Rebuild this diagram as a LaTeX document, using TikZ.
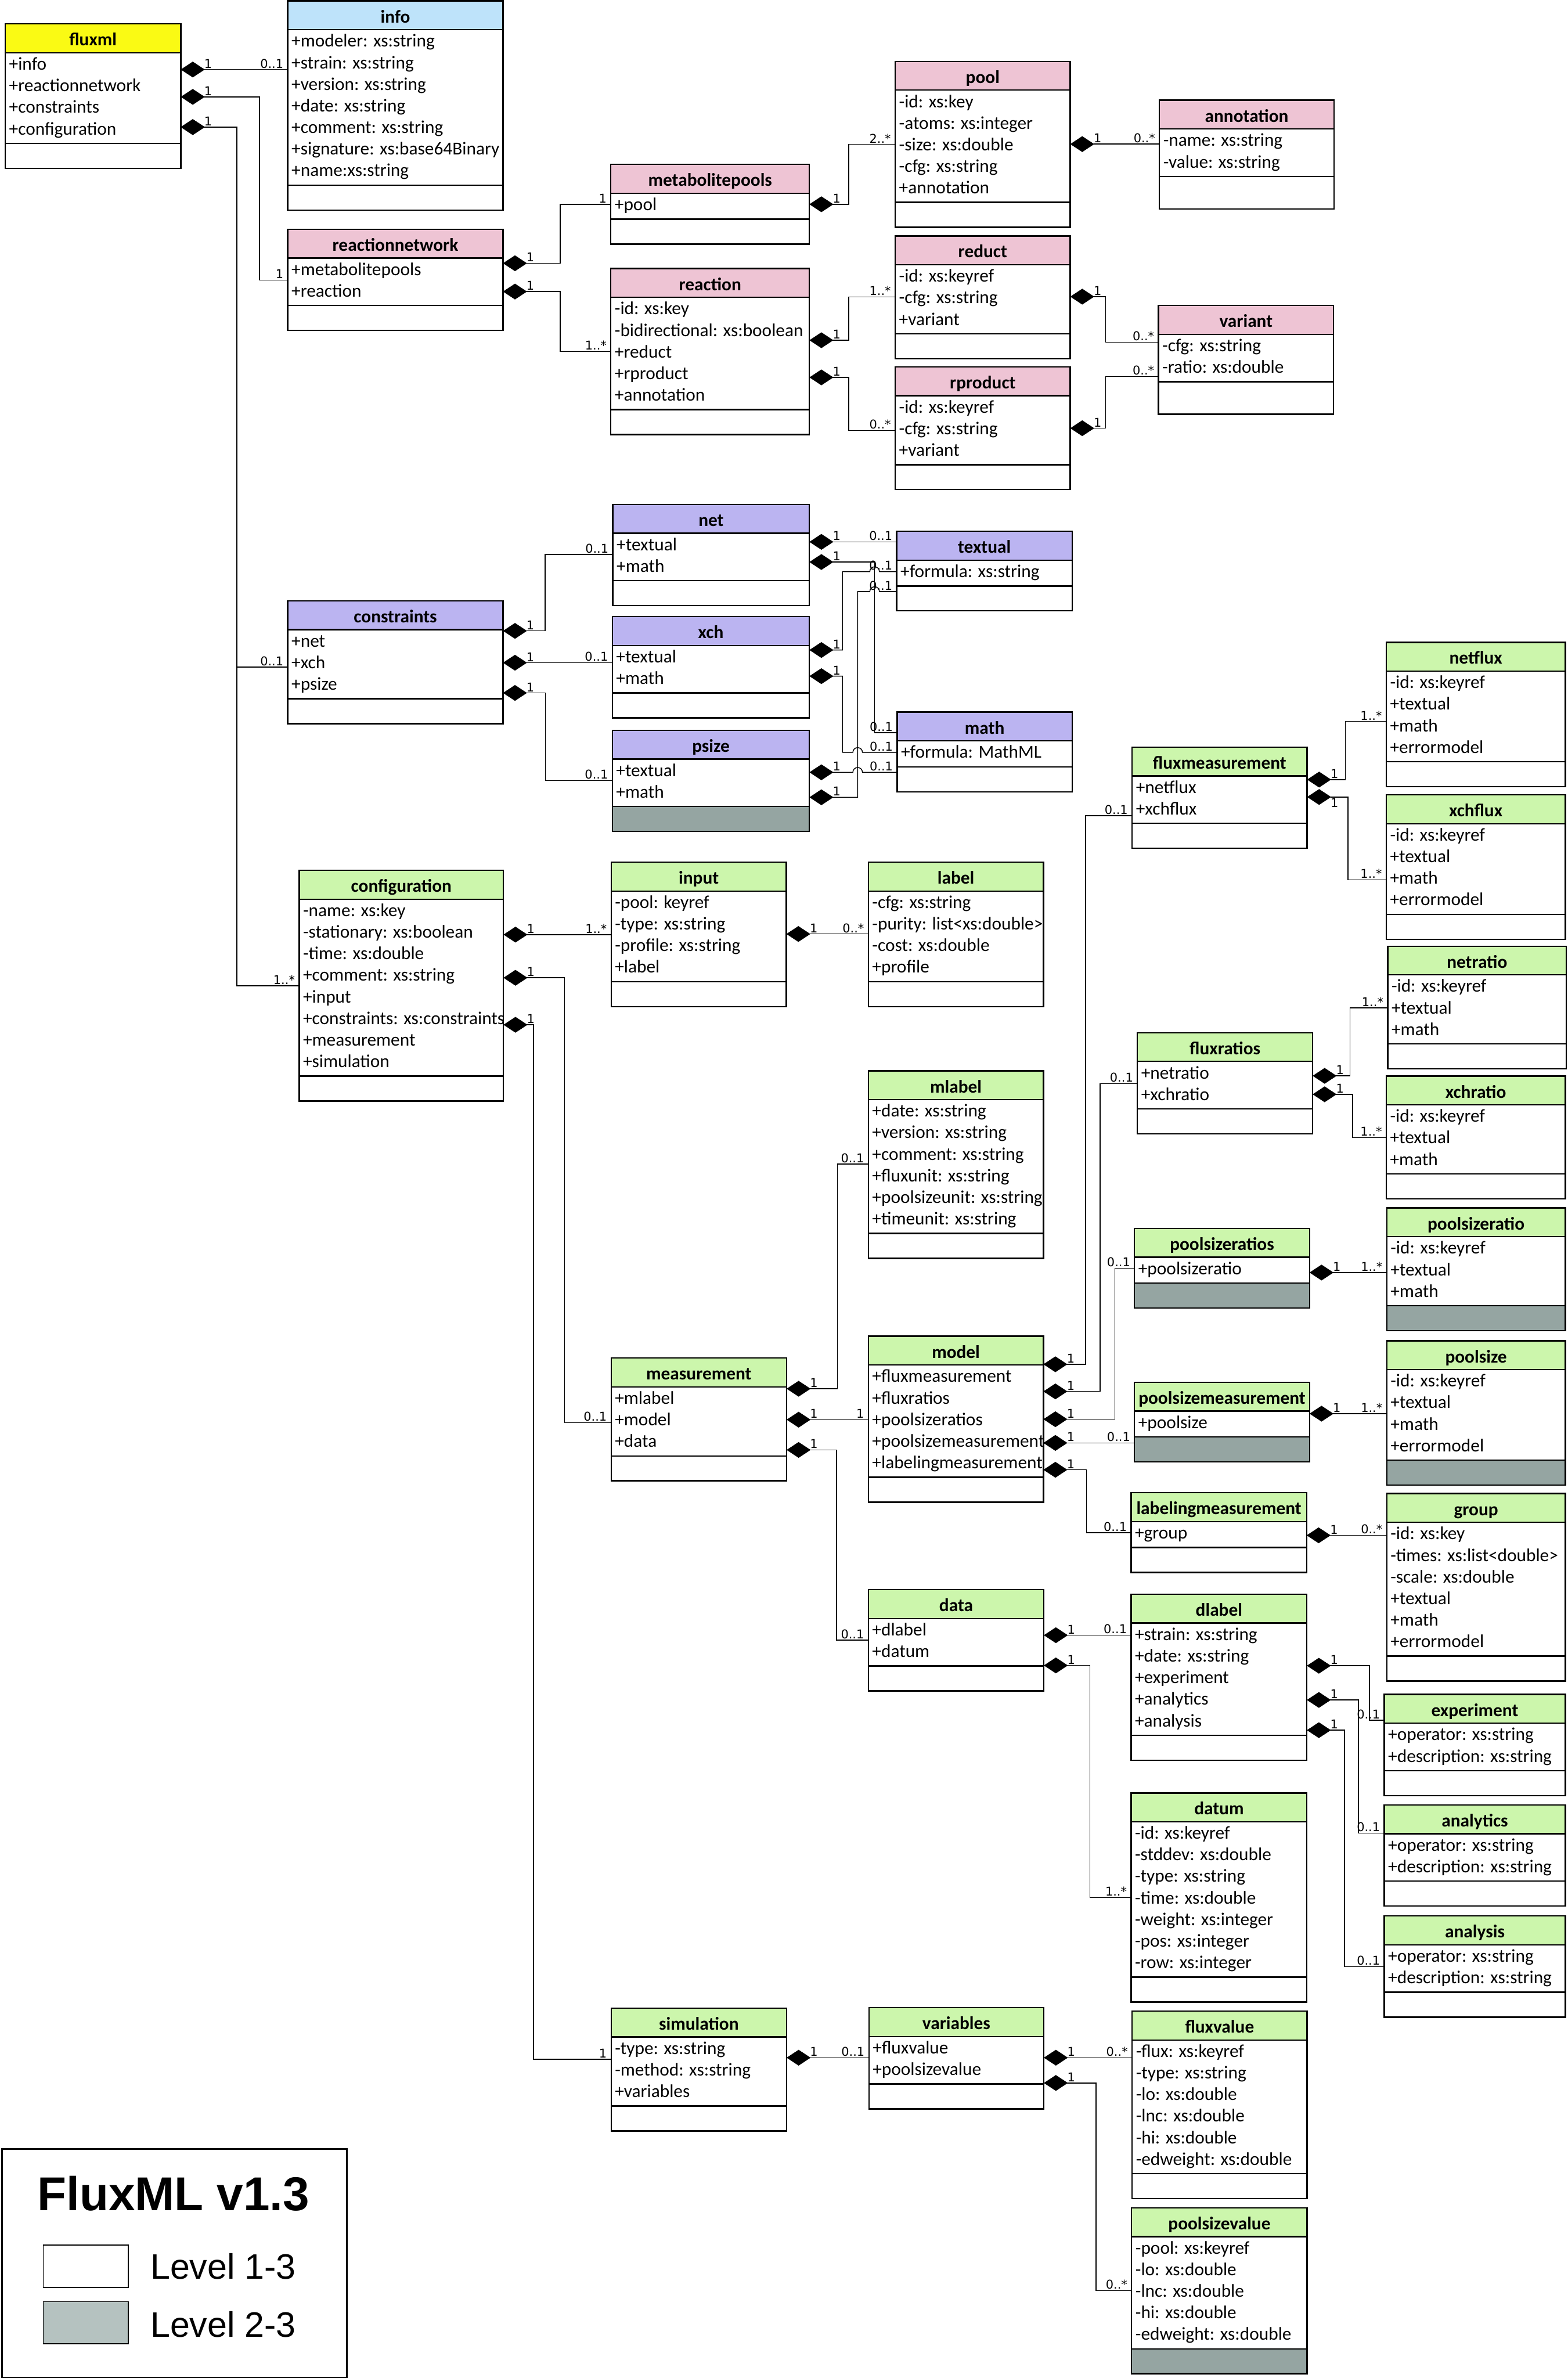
\documentclass[tikz,border=0pt]{standalone}
\usepackage{fontspec}
\setmainfont{Carlito}
\newfontfamily\multfont{DejaVu Sans}
\newfontfamily\legfont{Liberation Sans}
\usetikzlibrary{positioning,arrows.meta}

\definecolor{hdyellow}{RGB}{250,250,20}
\definecolor{hdblue}{RGB}{190,227,250}
\definecolor{hdpink}{RGB}{238,196,212}
\definecolor{hdviolet}{RGB}{187,180,241}
\definecolor{hdgreen}{RGB}{204,246,172}
\definecolor{lvgrey}{RGB}{149,165,162}
\definecolor{leggrey}{RGB}{181,194,192}

\newcommand{\clsfont}{\fontsize{10.8}{12.8}\selectfont}
% class box: [footer options]{name}{x}{y}{width}{colour}{title}{lines}{attributes}
\newcommand{\umlclass}[9][]{%
  \pgfmathsetlengthmacro{\clsw}{#5*1cm}%
  \pgfmathsetlengthmacro{\clstw}{#5*1cm-0.16cm}%
  \pgfmathsetlengthmacro{\clsh}{(0.45*#8+0.09)*1cm}%
  \node[clshead,fill=#6,minimum width=\clsw] (#2) at (#3,#4) {#7};
  \node[clsattr,minimum width=\clsw,minimum height=\clsh,below=0pt of #2] (#2-a)
    {\vbox{\hsize=\clstw\foreach\attrline in {#9}{\hbox to\hsize{\strut\attrline\hss}}}};
  \node[clsfoot,minimum width=\clsw,below=0pt of #2-a,#1] (#2-f) {};
}

\begin{document}
\begin{tikzpicture}[x=1cm,y=-1cm,
  clshead/.style={draw,line width=0.8pt,outer sep=0pt,inner sep=0pt,minimum height=0.6cm,
    anchor=north west,text height=3.5mm,text depth=0.4mm,font=\clsfont\bfseries},
  clsattr/.style={draw,fill=white,line width=0.8pt,outer sep=0pt,inner sep=0pt,font=\clsfont},
  clsfoot/.style={draw,fill=white,line width=0.8pt,outer sep=0pt,inner sep=0pt,minimum height=0.52cm},
  comp/.style={line width=0.5pt,{Diamond[length=5mm,width=3.3mm]}-},
  mult/.style={font=\multfont\fontsize{7.2}{8}\selectfont,inner sep=0.6pt},
  m1/.style={mult,anchor=south west,xshift=4.6mm},
  m1b/.style={mult,anchor=north west,xshift=4.6mm},
  m2/.style={mult,anchor=south east,xshift=-0.6mm},
  legbox/.style={draw,line width=0.6pt,anchor=north west,minimum width=1.776cm,minimum height=0.876cm,inner sep=0pt},
  legtext/.style={anchor=base west,inner sep=0pt,font=\legfont\fontsize{21}{24}\selectfont}]
\useasboundingbox (0,0) rectangle (32.70,49.59);

% root and reaction network
\umlclass{fluxml}{0.11}{0.50}{3.66}{hdyellow}{fluxml}{4}{+info,+reactionnetwork,+constraints,+configuration}
\umlclass{info}{6.00}{0.02}{4.49}{hdblue}{info}{7}{+modeler: xs:string,+strain: xs:string,+version: xs:string,+date: xs:string,+comment: xs:string,+signature: xs:base64Binary,+name:xs:string}
\umlclass{rnetwork}{6.00}{4.78}{4.49}{hdpink}{reactionnetwork}{2}{+metabolitepools,+reaction}
\umlclass{mpools}{12.74}{3.43}{4.14}{hdpink}{metabolitepools}{1}{+pool}
\umlclass{reaction}{12.74}{5.60}{4.14}{hdpink}{reaction}{5}{-id: xs:key,-bidirectional: xs:boolean,+reduct,+rproduct,+annotation}
\umlclass{pool}{18.67}{1.28}{3.65}{hdpink}{pool}{5}{-id: xs:key,-atoms: xs:integer,-size: xs:double,-cfg: xs:string,+annotation}
\umlclass{reduct}{18.67}{4.92}{3.65}{hdpink}{reduct}{3}{-id: xs:keyref,-cfg: xs:string,+variant}
\umlclass{rproduct}{18.67}{7.65}{3.65}{hdpink}{rproduct}{3}{-id: xs:keyref,-cfg: xs:string,+variant}
\umlclass[minimum height=0.68cm]{annotation}{24.18}{2.09}{3.64}{hdpink}{annotation}{2}{-name: xs:string,-value: xs:string}
\umlclass[minimum height=0.68cm]{variant}{24.16}{6.37}{3.65}{hdpink}{variant}{2}{-cfg: xs:string,-ratio: xs:double}

% constraints
\umlclass{constraints}{6.00}{12.53}{4.49}{hdviolet}{constraints}{3}{+net,+xch,+psize}
\umlclass{net}{12.78}{10.52}{4.10}{hdviolet}{net}{2}{+textual,+math}
\umlclass{xch}{12.77}{12.86}{4.11}{hdviolet}{xch}{2}{+textual,+math}
\umlclass[fill=lvgrey]{psize}{12.77}{15.23}{4.11}{hdviolet}{psize}{2}{+textual,+math}
\umlclass{textual}{18.70}{11.08}{3.66}{hdviolet}{textual}{1}{+formula: xs:string}
\umlclass{math}{18.71}{14.85}{3.65}{hdviolet}{math}{1}{+formula: MathML}

% configuration
\umlclass{config}{6.24}{18.15}{4.26}{hdgreen}{configuration}{8}{-name: xs:key,-stationary: xs:boolean,-time: xs:double,+comment: xs:string,+input,+constraints: xs:constraints,+measurement,+simulation}
\umlclass{input}{12.745}{17.98}{3.655}{hdgreen}{input}{4}{-pool: keyref,-type: xs:string,-profile: xs:string,+label}
\umlclass{label}{18.11}{17.98}{3.65}{hdgreen}{label}{4}{-cfg: xs:string,-purity: list<xs:double>,-cost: xs:double,+profile}
\umlclass{mlabel}{18.11}{22.33}{3.65}{hdgreen}{mlabel}{6}{+date: xs:string,+version: xs:string,+comment: xs:string,+fluxunit: xs:string,+poolsizeunit: xs:string,+timeunit: xs:string}
\umlclass{measurement}{12.745}{28.32}{3.66}{hdgreen}{measurement}{3}{+mlabel,+model,+data}
\umlclass{model}{18.11}{27.865}{3.65}{hdgreen}{model}{5}{+fluxmeasurement,+fluxratios,+poolsizeratios,+poolsizemeasurement,+labelingmeasurement}
\umlclass{data}{18.11}{33.15}{3.66}{hdgreen}{data}{2}{+dlabel,+datum}
\umlclass{fluxmeas}{23.61}{15.58}{3.65}{hdgreen}{fluxmeasurement}{2}{+netflux,+xchflux}
\umlclass{netflux}{28.91}{13.395}{3.735}{hdgreen}{netflux}{4}{-id: xs:keyref,+textual,+math,+errormodel}
\umlclass{xchflux}{28.91}{16.576}{3.735}{hdgreen}{xchflux}{4}{-id: xs:keyref,+textual,+math,+errormodel}
\umlclass{fluxratios}{23.72}{21.535}{3.655}{hdgreen}{fluxratios}{2}{+netratio,+xchratio}
\umlclass{netratio}{28.94}{19.73}{3.727}{hdgreen}{netratio}{3}{-id: xs:keyref,+textual,+math}
\umlclass{xchratio}{28.91}{22.44}{3.735}{hdgreen}{xchratio}{3}{-id: xs:keyref,+textual,+math}
\umlclass[fill=lvgrey]{psratios}{23.66}{25.617}{3.65}{hdgreen}{poolsizeratios}{1}{+poolsizeratio}
\umlclass[fill=lvgrey]{psratio}{28.92}{25.19}{3.725}{hdgreen}{poolsizeratio}{3}{-id: xs:keyref,+textual,+math}
\umlclass[fill=lvgrey]{psmeas}{23.66}{28.826}{3.65}{hdgreen}{poolsizemeasurement}{1}{+poolsize}
\umlclass[fill=lvgrey]{poolsize}{28.92}{27.96}{3.725}{hdgreen}{poolsize}{4}{-id: xs:keyref,+textual,+math,+errormodel}
\umlclass{labmeas}{23.59}{31.13}{3.66}{hdgreen}{labelingmeasurement}{1}{+group}
\umlclass{group}{28.92}{31.146}{3.725}{hdgreen}{group}{6}{-id: xs:key,-times: xs:list<double>,-scale: xs:double,+textual,+math,+errormodel}
\umlclass{dlabel}{23.59}{33.246}{3.665}{hdgreen}{dlabel}{5}{+strain: xs:string,+date: xs:string,+experiment,+analytics,+analysis}
\umlclass{experiment}{28.87}{35.335}{3.775}{hdgreen}{experiment}{2}{+operator: xs:string,+description: xs:string}
\umlclass{analytics}{28.87}{37.64}{3.775}{hdgreen}{analytics}{2}{+operator: xs:string,+description: xs:string}
\umlclass{analysis}{28.87}{39.956}{3.775}{hdgreen}{analysis}{2}{+operator: xs:string,+description: xs:string}
\umlclass{datum}{23.59}{37.39}{3.665}{hdgreen}{datum}{7}{-id: xs:keyref,-stddev: xs:double,-type: xs:string,-time: xs:double,-weight: xs:integer,-pos: xs:integer,-row: xs:integer}
\umlclass{simulation}{12.745}{41.876}{3.66}{hdgreen}{simulation}{3}{-type: xs:string,-method: xs:string,+variables}
\umlclass{variables}{18.12}{41.868}{3.65}{hdgreen}{variables}{2}{+fluxvalue,+poolsizevalue}
\umlclass{fluxvalue}{23.61}{41.94}{3.65}{hdgreen}{fluxvalue}{6}{-flux: xs:keyref,-type: xs:string,-lo: xs:double,-lnc: xs:double,-hi: xs:double,-edweight: xs:double}
\umlclass[fill=lvgrey]{psvalue}{23.60}{46.04}{3.66}{hdgreen}{poolsizevalue}{5}{-pool: xs:keyref,-lo: xs:double,-lnc: xs:double,-hi: xs:double,-edweight: xs:double}

% compositions
\draw[comp] (fluxml-a.east |- 0,1.45) node[m1]{1} -- (info.west |- 0,1.45) node[m2]{0..1};
\draw[comp] (fluxml-a.east |- 0,2.02) node[m1]{1} -| (5.41,5.84) -- (rnetwork.west |- 0,5.84) node[m2]{1};
\draw[comp] (fluxml-a.east |- 0,2.65) node[m1]{1} -| (4.94,13.91) -- (constraints.west |- 0,13.91) node[m2]{0..1};
\draw[comp] (fluxml-a.east |- 0,2.65) -| (4.94,20.56) -- (config.west |- 0,20.56) node[m2]{1..*};
\draw[comp] (rnetwork-a.east |- 0,5.49) node[m1]{1} -| (11.685,4.26) -- (mpools.west |- 0,4.26) node[m2]{1};
\draw[comp] (rnetwork-a.east |- 0,6.08) node[m1]{1} -| (11.685,7.33) -- (reaction.west |- 0,7.33) node[m2]{1..*};
\draw[comp] (mpools-a.east |- 0,4.26) node[m1]{1} -| (17.70,3.01) -- (pool.west |- 0,3.01) node[m2]{2..*};
\draw[comp] (reaction-a.east |- 0,7.095) node[m1]{1} -| (17.70,6.19) -- (reduct.west |- 0,6.19) node[m2]{1..*};
\draw[comp] (reaction-a.east |- 0,7.87) node[m1]{1} -| (17.70,8.976) -- (rproduct.west |- 0,8.976) node[m2]{0..*};
\draw[comp] (pool-a.east |- 0,3.005) node[m1]{1} -- (annotation.west |- 0,3.005) node[m2]{0..*};
\draw[comp] (reduct-a.east |- 0,6.186) node[m1]{1} -| (23.056,7.14) -- (variant.west |- 0,7.14) node[m2]{0..*};
\draw[comp] (rproduct-a.east |- 0,8.93) node[m1]{1} -| (23.056,7.85) -- (variant.west |- 0,7.85) node[m2]{0..*};

\draw[comp] (constraints-a.east |- 0,13.156) node[m1]{1} -| (11.37,11.56) -- (net.west |- 0,11.56) node[m2]{0..1};
\draw[comp] (constraints-a.east |- 0,13.82) node[m1]{1} -- (xch.west |- 0,13.82) node[m2]{0..1};
\draw[comp] (constraints-a.east |- 0,14.45) node[m1]{1} -| (11.377,16.28) -- (psize.west |- 0,16.28) node[m2]{0..1};
\draw[comp] (net-a.east |- 0,11.30) node[m1]{1} -- (textual.west |- 0,11.30) node[m2]{0..1};
\draw[comp] (net-a.east |- 0,11.72) node[m1]{1} -| (18.24,15.28) -- (math.west |- 0,15.28) node[m2]{0..1};
\draw[comp] (xch-a.east |- 0,13.555) node[m1]{1} -| (17.57,11.92) -- (18.14,11.92)
  arc[start angle=180,end angle=0,radius=1mm] -- (textual.west |- 0,11.92) node[m2]{0..1};
\draw[comp] (xch-a.east |- 0,14.10) node[m1]{1} -| (17.57,15.69) -- (17.786,15.69)
  arc[start angle=180,end angle=0,radius=1mm] -- (math.west |- 0,15.69) node[m2]{0..1};
\draw[comp] (psize-a.east |- 0,16.105) node[m1]{1} -- (17.786,16.105)
  arc[start angle=180,end angle=0,radius=1mm] -- (math.west |- 0,16.105) node[m2]{0..1};
\draw[comp] (psize-a.east |- 0,16.626) node[m1]{1} -| (17.886,12.335) -- (18.14,12.335)
  arc[start angle=180,end angle=0,radius=1mm] -- (textual.west |- 0,12.335) node[m2]{0..1};

\draw[comp] (config-a.east |- 0,19.49) node[m1]{1} -- (input.west |- 0,19.49) node[m2]{1..*};
\draw[comp] (input-a.east |- 0,19.477) node[m1]{1} -- (label.west |- 0,19.477) node[m2]{0..*};
\draw[comp] (config-a.east |- 0,20.39) node[m1]{1} -| (11.776,29.67) -- (measurement.west |- 0,29.67) node[m2]{0..1};
\draw[comp] (config-a.east |- 0,21.37) node[m1]{1} -| (11.124,42.945) -- (simulation.west |- 0,42.945) node[m2]{1};
\draw[comp] (measurement-a.east |- 0,28.96) node[m1]{1} -| (17.466,24.275) -- (mlabel.west |- 0,24.275) node[m2]{0..1};
\draw[comp] (measurement-a.east |- 0,29.605) node[m1]{1} -- (model.west |- 0,29.605) node[m2]{1};
\draw[comp] (measurement-a.east |- 0,30.236) node[m1]{1} -| (17.445,34.20) -- (data.west |- 0,34.20) node[m2]{0..1};
\draw[comp] (model-a.east |- 0,28.45) node[m1]{1} -| (22.64,17.01) -- (fluxmeas.west |- 0,17.01) node[m2]{0..1};
\draw[comp] (model-a.east |- 0,29.016) node[m1]{1} -| (22.94,22.595) -- (fluxratios.west |- 0,22.595) node[m2]{0..1};
\draw[comp] (model-a.east |- 0,29.596) node[m1]{1} -| (23.25,26.446) -- (psratios.west |- 0,26.446) node[m2]{0..1};
\draw[comp] (model-a.east |- 0,30.09) node[m1]{1} -- (psmeas.west |- 0,30.09) node[m2]{0..1};
\draw[comp] (model-a.east |- 0,30.65) node[m1]{1} -| (22.657,31.96) -- (labmeas.west |- 0,31.96) node[m2]{0..1};
\draw[comp] (fluxmeas-a.east |- 0,16.257) node[m1]{1} -| (28.06,15.045) -- (netflux.west |- 0,15.045) node[m2]{1..*};
\draw[comp] (fluxmeas-a.east |- 0,16.62) node[m1b]{1} -| (28.11,18.346) -- (xchflux.west |- 0,18.346) node[m2]{1..*};
\draw[comp] (fluxratios-a.east |- 0,22.435) node[m1]{1} -| (28.155,21.016) -- (netratio.west |- 0,21.016) node[m2]{1..*};
\draw[comp] (fluxratios-a.east |- 0,22.82) node[m1]{1} -| (28.21,23.72) -- (xchratio.west |- 0,23.72) node[m2]{1..*};
\draw[comp] (psratios-a.east |- 0,26.537) node[m1]{1} -- (psratio.west |- 0,26.537) node[m2]{1..*};
\draw[comp] (psmeas-a.east |- 0,29.48) node[m1]{1} -- (poolsize.west |- 0,29.48) node[m2]{1..*};
\draw[comp] (labmeas-a.east |- 0,32.017) node[m1]{1} -- (group.west |- 0,32.017) node[m2]{0..*};
\draw[comp] (data-a.east |- 0,34.10) node[m1]{1} -- (dlabel.west |- 0,34.10) node[m2]{0..1};
\draw[comp] (data-a.east |- 0,34.73) node[m1]{1} -| (22.73,39.57) -- (datum.west |- 0,39.57) node[m2]{1..*};
\draw[comp] (dlabel-a.east |- 0,34.736) node[m1]{1} -| (28.56,35.87) -- (experiment.west |- 0,35.87) node[m2]{0..1};
\draw[comp] (dlabel-a.east |- 0,35.45) node[m1]{1} -| (28.33,38.23) -- (analytics.west |- 0,38.23) node[m2]{0..1};
\draw[comp] (dlabel-a.east |- 0,36.08) node[m1]{1} -| (28.04,41.01) -- (analysis.west |- 0,41.01) node[m2]{0..1};
\draw[comp] (simulation-a.east |- 0,42.91) node[m1]{1} -- (variables.west |- 0,42.91) node[m2]{0..1};
\draw[comp] (variables-a.east |- 0,42.91) node[m1]{1} -- (fluxvalue.west |- 0,42.91) node[m2]{0..*};
\draw[comp] (variables-a.east |- 0,43.437) node[m1]{1} -| (22.86,47.77) -- (psvalue.west |- 0,47.77) node[m2]{0..*};

% legend
\node[draw,line width=1pt,anchor=north west,minimum width=7.20cm,minimum height=4.76cm,inner sep=0pt] (legend) at (0.02,44.80) {};
\node[anchor=base,inner sep=0pt,font=\legfont\bfseries\fontsize{28.2}{32}\selectfont] (legtitle) at (3.615,46.10) {FluxML v1.3};
\node[legbox,fill=white] (lvonebox) at (0.89,46.81) {};
\node[legtext] (lvonetext) at (3.13,47.52) {Level 1-3};
\node[legbox,fill=leggrey] (lvtwobox) at (0.89,47.987) {};
\node[legtext] (lvtwotext) at (3.13,48.73) {Level 2-3};
\end{tikzpicture}
\end{document}
